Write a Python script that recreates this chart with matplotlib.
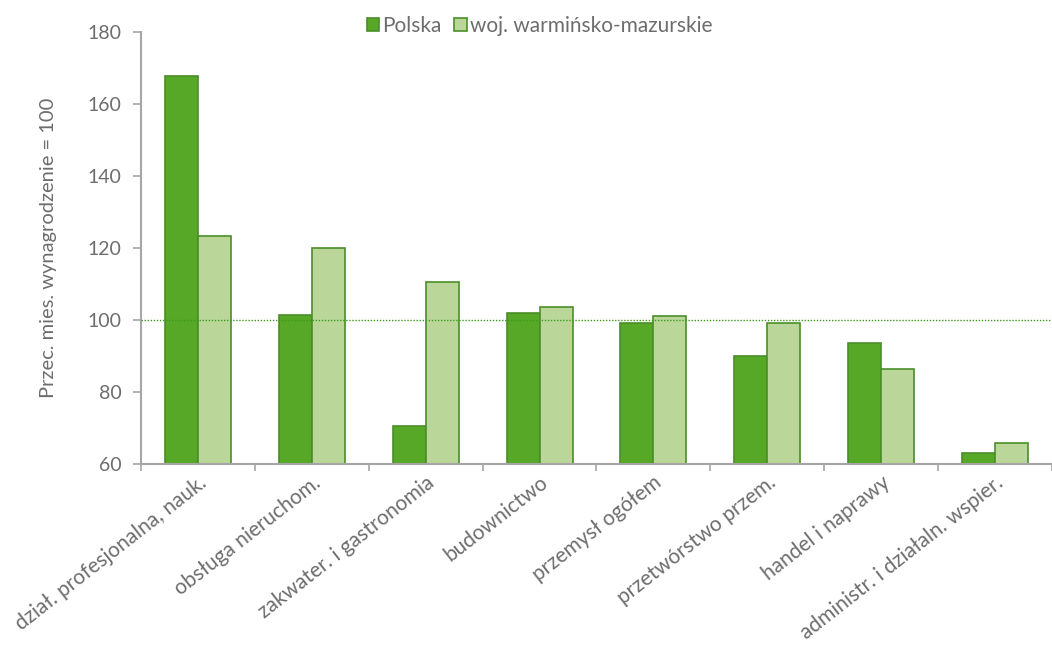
import matplotlib
matplotlib.use("Agg")
import matplotlib.pyplot as plt
import numpy as np

plt.rcParams['font.family'] = ['Lato', 'DejaVu Sans']

# data
categories = ["dział. profesjonalna, nauk.", "obsługa nieruchom.", "zakwater. i gastronomia",
              "budownictwo", "przemysł ogółem", "przetwórstwo przem.", "handel i naprawy",
              "administr. i działaln. wspier."]
polska = [167.8, 101.5, 70.6, 101.9, 99.2, 89.9, 93.5, 63.1]
warminsko = [123.3, 120.0, 110.6, 103.5, 101.2, 99.2, 86.3, 65.9]
series_names = ["Polska", "woj. warmińsko-mazurskie"]

text_col = "#6d6d6d"
axis_col = "#a6a6a6"
edge_col = "#4a8e2a"

fig = plt.figure(figsize=(10.52, 6.46), dpi=100)
ax = fig.add_axes([0.134, 0.2817, 0.866, 0.6688])

x = np.arange(len(categories))
w = 0.29
b1 = ax.bar(x - w / 2, np.array(polska) - 60, w, bottom=60, color="#57a826",
            edgecolor=edge_col, linewidth=1.2, label=series_names[0], zorder=2)
b2 = ax.bar(x + w / 2, np.array(warminsko) - 60, w, bottom=60, color="#bad799",
            edgecolor=edge_col, linewidth=1.2, label=series_names[1], zorder=2)

# reference line at 100
ax.axhline(100, color="#3a9a1a", linestyle=(0, (1, 1.2)), linewidth=1.0, zorder=3)

ax.set_ylim(60, 180)
ax.set_xlim(-0.5, 7.37)
ax.set_yticks(range(60, 181, 20))
ax.tick_params(axis='y', colors=axis_col, labelcolor=text_col, labelsize=14, length=6, width=1.2, pad=8)

ax.set_xticks(x)
ax.set_xticklabels(categories, rotation=38, ha='right', rotation_mode='anchor',
                   fontsize=15, color=text_col)
ax.tick_params(axis='x', which='major', length=0, pad=6)
ax.set_xticks(np.arange(-0.5, len(categories), 1.0), minor=True)
ax.tick_params(axis='x', which='minor', length=5, width=1.2, colors=axis_col)

for s in ["top", "right"]:
    ax.spines[s].set_visible(False)
for s in ["left", "bottom"]:
    ax.spines[s].set_color(axis_col)
    ax.spines[s].set_linewidth(1.5)

ax.set_ylabel("Przec. mies. wynagrodzenie = 100", fontsize=14.5, color=text_col, labelpad=22)

leg = fig.legend(handles=[b1, b2], loc="upper center", bbox_to_anchor=(0.513, 1.005),
                 ncol=2, frameon=False, fontsize=15, handlelength=0.6, handleheight=0.6,
                 handletextpad=0.15, columnspacing=0.6, labelcolor=text_col)

fig.savefig("out.png", dpi=100)
